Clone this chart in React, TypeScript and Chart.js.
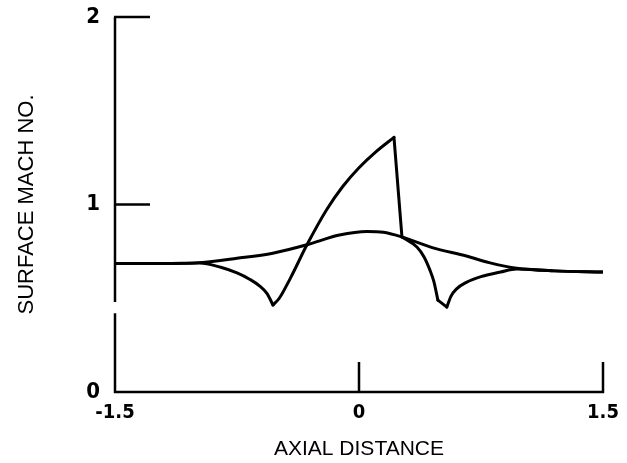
import React, { useEffect, useRef } from "react";
import { Chart, registerables } from "chart.js";

Chart.register(...registerables);

// ---- data ----
const xTickValues = [-1.5, 0, 1.5];
const yTickValues = [0, 1, 2];
const xTitle = "AXIAL DISTANCE";
const yTitle = "SURFACE MACH NO.";
// small break in the scanned y-axis line (data units)
const yAxisGap = [0.42, 0.48];

// smooth (subcritical) curve
const smoothX = [-1.5, -1.2, -0.98, -0.75, -0.53, -0.32, -0.12, 0.05, 0.15, 0.26, 0.45, 0.66, 0.8, 0.97, 1.2, 1.5];
const smoothY = [0.685, 0.685, 0.69, 0.713, 0.74, 0.785, 0.837, 0.856, 0.852, 0.828, 0.77, 0.725, 0.69, 0.66, 0.646, 0.64];

// curve with shock
const shockX = [-1.5, -1.2, -0.98, -0.85, -0.75, -0.67, -0.61, -0.565, -0.529, -0.49, -0.42, -0.32, -0.2, -0.1, 0.0, 0.1, 0.215, 0.264, 0.356, 0.4, 0.436, 0.46, 0.485, 0.54, 0.565, 0.6, 0.66, 0.75, 0.87, 0.97, 1.2, 1.5];
const shockY = [0.685, 0.685, 0.688, 0.665, 0.635, 0.6, 0.565, 0.525, 0.464, 0.5, 0.61, 0.785, 0.971, 1.096, 1.196, 1.278, 1.358, 0.827, 0.773, 0.72, 0.65, 0.59, 0.49, 0.453, 0.51, 0.55, 0.585, 0.615, 0.64, 0.656, 0.646, 0.64];
// x positions of sharp corners on the shock curve
const shockCorners = [-0.529, 0.215, 0.264, 0.485, 0.54];

const FONT = "'Liberation Sans Narrow', 'DejaVu Sans Condensed', 'Liberation Sans', sans-serif";

function toPoints(xs: number[], ys: number[]) {
  return xs.map((x, i) => ({ x, y: ys[i] }));
}

function splitAtCorners(xs: number[], ys: number[], corners: number[]) {
  const segs: { x: number; y: number }[][] = [];
  let cur: { x: number; y: number }[] = [];
  xs.forEach((x, i) => {
    const p = { x, y: ys[i] };
    cur.push(p);
    if (corners.includes(x) && i !== 0 && i !== xs.length - 1) {
      segs.push(cur);
      cur = [p];
    }
  });
  if (cur.length > 1) segs.push(cur);
  return segs;
}

const lineStyle = {
  borderColor: "#000",
  borderWidth: 3,
  pointRadius: 0,
  fill: false,
  cubicInterpolationMode: "monotone" as const,
  borderCapStyle: "round" as const,
  borderJoinStyle: "round" as const,
};

const axesPlugin = {
  id: "paperAxes",
  beforeDatasetsDraw(chart: any) {
    const { ctx, scales } = chart;
    const xs = scales.x;
    const ys = scales.y;
    const xL = xs.getPixelForValue(xTickValues[0]);
    const xR = xs.getPixelForValue(xTickValues[xTickValues.length - 1]);
    const yB = ys.getPixelForValue(yTickValues[0]);
    const yT = ys.getPixelForValue(yTickValues[yTickValues.length - 1]);
    const gTop = ys.getPixelForValue(yAxisGap[1]);
    const gBot = ys.getPixelForValue(yAxisGap[0]);
    ctx.save();
    ctx.strokeStyle = "#000";
    ctx.lineWidth = 2.5;
    ctx.lineCap = "butt";
    ctx.beginPath();
    ctx.moveTo(xL, yT);
    ctx.lineTo(xL, gTop);
    ctx.moveTo(xL, gBot);
    ctx.lineTo(xL, yB);
    ctx.lineTo(xR + 1, yB);
    ctx.stroke();
    ctx.beginPath();
    yTickValues.slice(1).forEach((v) => {
      const py = ys.getPixelForValue(v);
      ctx.moveTo(xL - 1, py);
      ctx.lineTo(xL + 35, py);
    });
    xTickValues.slice(1).forEach((v) => {
      const px = xs.getPixelForValue(v);
      ctx.moveTo(px, yB + 1);
      ctx.lineTo(px, yB - 30);
    });
    ctx.stroke();
    ctx.restore();
  },
};

export default function App() {
  const ref = useRef<HTMLCanvasElement | null>(null);

  useEffect(() => {
    if (!ref.current) return;
    const datasets: any[] = [
      { ...lineStyle, label: "smooth", data: toPoints(smoothX, smoothY) },
      ...splitAtCorners(shockX, shockY, shockCorners).map((seg, i) => ({
        ...lineStyle,
        label: "shock" + i,
        data: seg,
      })),
    ];
    const chart = new Chart(ref.current, {
      type: "line",
      data: { datasets },
      plugins: [axesPlugin],
      options: {
        animation: false,
        responsive: false,
        events: [],
        layout: { padding: { top: 17, right: 24, left: 0, bottom: 0 } },
        plugins: { legend: { display: false }, tooltip: { enabled: false } },
        scales: {
          x: {
            type: "linear",
            min: -1.5,
            max: 1.5,
            grid: { display: false, drawTicks: false },
            border: { display: false },
            afterBuildTicks: (s: any) => {
              s.ticks = xTickValues.map((v) => ({ value: v }));
            },
            afterFit: (s: any) => {
              s.height = 71;
              s.paddingLeft = 0;
              s.paddingRight = 0;
            },
            ticks: {
              color: "#000",
              padding: 9,
              maxRotation: 0,
              font: { family: FONT, size: 20, weight: "bold" },
              callback: (v: any) => String(v),
            },
            title: {
              display: true,
              text: xTitle,
              color: "#000",
              font: { family: "'Liberation Sans', sans-serif", size: 21 },
              padding: { top: 0, bottom: 1 },
            },
          },
          y: {
            type: "linear",
            min: 0,
            max: 2,
            grid: { display: false, drawTicks: false },
            border: { display: false },
            afterBuildTicks: (s: any) => {
              s.ticks = yTickValues.map((v) => ({ value: v }));
            },
            afterFit: (s: any) => {
              s.width = 115;
              s.paddingTop = 0;
              s.paddingBottom = 0;
            },
            ticks: {
              color: "#000",
              padding: 15,
              font: { family: FONT, size: 22, weight: "bold" },
              callback: (v: any) => String(v),
            },
            title: {
              display: true,
              text: yTitle,
              color: "#000",
              font: { family: "'Liberation Sans', sans-serif", size: 22 },
              padding: { top: 14, bottom: 0 },
            },
          },
        },
      },
    });
    return () => chart.destroy();
  }, []);

  return (
    <div style={{ position: "fixed", left: 0, top: 0, width: 627, height: 463, background: "#fff" }}>
      <canvas ref={ref} width={627} height={463} style={{ width: 627, height: 463 }} />
    </div>
  );
}
